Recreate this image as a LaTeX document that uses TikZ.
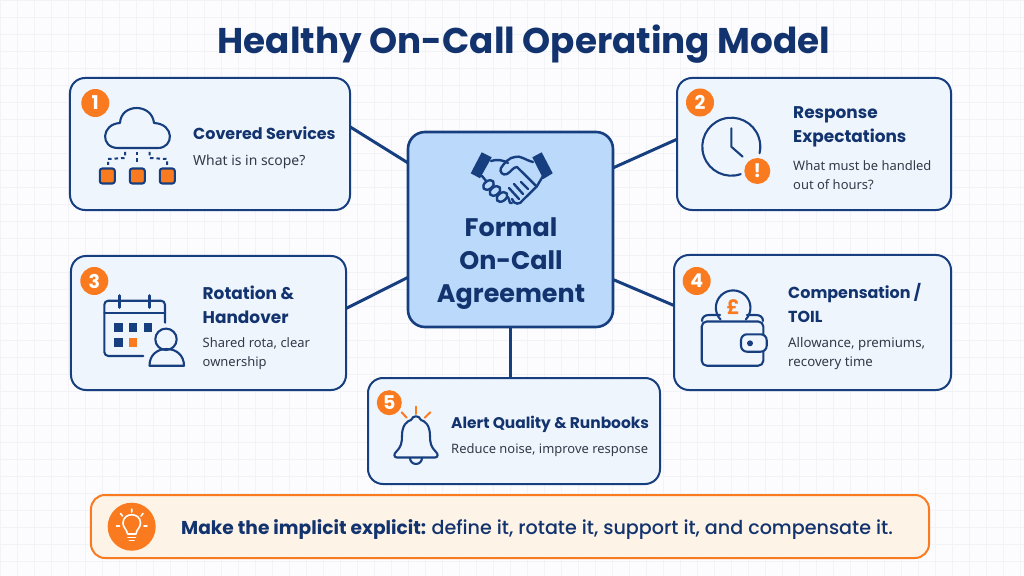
\documentclass[tikz,border=0pt]{standalone}
\usepackage{fontspec}
\setmainfont{Noto Sans}
\newfontfamily\headfont{Poppins}
\newfontfamily\midfont{Poppins Medium}
\usepackage{tikz}

\definecolor{navy}{HTML}{12336E}
\definecolor{linecol}{HTML}{173F7F}
\definecolor{cardcol}{HTML}{EFF5FD}
\definecolor{corecol}{HTML}{BBD9FB}
\definecolor{orangecol}{HTML}{F97A1F}
\definecolor{bannercol}{HTML}{FDF3E6}
\definecolor{bodycol}{HTML}{333A47}
\definecolor{gridcol}{HTML}{F1F3F7}
\definecolor{pagecol}{HTML}{FCFCFE}

\begin{document}
\begin{tikzpicture}[x=1bp,y=-1bp,line join=round,line cap=round,
	card/.style={draw=linecol,fill=cardcol,line width=2bp,rounded corners=15bp,inner sep=0pt,outer sep=0pt},
	badge/.style={circle,fill=orangecol,text=white,inner sep=0pt,outer sep=0pt,font=\headfont\fontsize{19}{19}\selectfont\bfseries},
	head/.style={anchor=west,align=left,inner sep=0pt,text=navy,font=\headfont\fontsize{16}{24}\selectfont\bfseries},
	headbig/.style={head,font=\headfont\fontsize{17}{24}\selectfont\bfseries},
	sub/.style={anchor=west,align=left,inner sep=0pt,text=bodycol,font=\fontsize{13}{18.5}\selectfont},
	link/.style={draw=linecol,line width=3bp,line cap=butt},
	icon/.style={draw=linecol,line width=2.1bp},
	wire/.style={icon,dash pattern=on 3.5bp off 3bp,line width=2bp,line cap=butt},
	shake/.style={icon,line width=2.4bp},
	spark/.style={draw=orangecol,line width=2bp},
	beam/.style={draw=white,line width=1.6bp},
	]
	\useasboundingbox (0,0) rectangle (1024,576);
	\fill [pagecol] (0,0) rectangle (1024,576);
	\draw [gridcol,line width=0.7bp,step=17bp] (0,0) grid (1024,576);

	\node (title) at (524,44) [inner sep=0pt,text=navy,font=\headfont\fontsize{35.9}{36}\selectfont\bfseries] {Healthy On-Call Operating Model};

	%% cards
	\node (c1) at (210,144) [card,minimum width=280bp,minimum height=132bp] {};
	\node (c2) at (814,144) [card,minimum width=274bp,minimum height=132bp] {};
	\node (c3) at (208.5,323) [card,minimum width=275bp,minimum height=134bp] {};
	\node (c4) at (812.5,322.5) [card,minimum width=277bp,minimum height=135bp] {};
	\node (c5) at (514,431) [card,minimum width=292bp,minimum height=106bp] {};
	\node (core) at (510.5,229.5) [card,fill=corecol,line width=2.6bp,rounded corners=17bp,minimum width=205bp,minimum height=195bp] {};

	\draw [link] (core.147.8) -- (c1.7.7);
	\draw [link] (core.31.8) -- (c2.178.3);
	\draw [link] (core.205.3) -- (c3.6.2);
	\draw [link] (core.334.7) -- (c4.173.6);
	\draw [link] (core.south) -- (core.south |- c5.north);

	\node (b1) at (95.3,103) [badge,minimum size=28bp] {1};
	\node (b2) at (700,102.5) [badge,minimum size=28bp] {2};
	\node (b3) at (94.3,281) [badge,minimum size=28bp] {3};
	\node (b4) at (696.7,281) [badge,minimum size=28bp] {4};
	\node (b5) at (389.3,402.7) [badge,minimum size=25bp] {5};

	\node (h1) at (193,133.5) [head] {Covered Services};
	\node (s1) at (193,162) [sub,font=\fontsize{14}{18.5}\selectfont] {What is in scope?};
	\node (h2) at (793,126.5) [headbig] {Response\\Expectations};
	\node (s2) at (793,175) [sub] {What must be handled\\out of hours?};
	\node (h3) at (202.5,305) [headbig] {Rotation \&\\Handover};
	\node (s3) at (202.5,353.5) [sub] {Shared rota, clear\\ownership};
	\node (h4) at (788,303) [head] {Compensation /\\TOIL};
	\node (s4) at (788,353.5) [sub,font=\fontsize{13.3}{18.5}\selectfont] {Allowance, premiums,\\recovery time};
	\node (h5) at (451,424.3) [head,font=\headfont\fontsize{15.5}{24}\selectfont\bfseries] {Alert Quality \& Runbooks};
	\node (s5) at (451,450) [sub] {Reduce noise, improve response};

	%% cloud
	\draw [icon] (118,148) -- (158,148) .. controls (174,148) and (175,124) .. (154,123) .. controls (152,103) and (121,103) .. (120,123) .. controls (101,124) and (100,148) .. (118,148) -- cycle;
	\draw [wire] (137.3,152) -- (137.3,165);
	\draw [wire] (125,152) -- (125,158) -- (108,159) -- (108,165);
	\draw [wire] (149.5,152) -- (149.5,158) -- (167,159) -- (167,165);
	\foreach \x in {107.3,137.3,167.3}
		\draw [icon,fill=orangecol,rounded corners=2.5bp] (\x-7.5,168.5) rectangle (\x+7.5,183.5);

	%% clock
	\draw [icon] (731.3,146.7) ++(71:29) arc (71:373:29);
	\draw [icon] (731.3,128.3) -- (731.3,146.7) -- (742.7,156.7);
	\node (warn) at (757.3,171) [badge,minimum size=26bp] {!};

	%% calendar
	\draw [icon,rounded corners=4bp] (143.3,356) -- (104.3,356) -- (104.3,300.7) -- (165,300.7) -- (165,322.7);
	\draw [icon] (104.3,313.3) -- (165,313.3);
	\foreach \x in {119.3,149.3}
		\draw [icon,line width=2.8bp] (\x,295.5) -- (\x,307.5);
	\foreach \x/\y/\z in {118.3/327.3/linecol,133/327.3/linecol,148/327.3/linecol,118.3/342.7/linecol,133/342.7/orangecol}
		\fill [\z] (\x-4.4,\y-4.4) rectangle (\x+4.4,\y+4.4);
	\draw [icon] (166,339.3) circle [radius=10.7];
	\draw [icon] (149.5,365.7) .. controls (149.5,355) and (157,349) .. (166.7,349) .. controls (176,349) and (184,355) .. (184,365.7) -- cycle;

	%% wallet
	\draw [icon,rounded corners=5bp] (701.7,321.5) -- (763.3,321.5) -- (763.3,365.7) -- (701.7,365.7) -- cycle;
	\draw [icon] (702,321) .. controls (702,317) and (705,315) .. (709,315) -- (720,315);
	\draw [icon] (747,315) -- (756,315) .. controls (760,315) and (763,317) .. (763,321);
	\draw [icon] (720.5,319.5) arc (137:403:17.3);
	\node (pound) at (733.3,307.5) [inner sep=0pt,text=orangecol,font=\headfont\fontsize{20}{20}\selectfont\bfseries] {£};
	\draw [icon,fill=cardcol,rounded corners=6bp] (766.7,334.3) -- (741,334.3) -- (741,351.7) -- (766.7,351.7) -- cycle;
	\fill [linecol] (750,343.3) circle [radius=3];

	%% bell
	\draw [spark] (416,406.7) -- (416,414);
	\draw [spark] (401.7,412.3) -- (406.7,417.7);
	\draw [spark] (430.3,412.3) -- (424.7,417.7);
	\draw [icon] (397,457.5) -- (435,457.5) .. controls (438,457.5) and (438.5,454) .. (436,452) .. controls (431,447) and (430,443) .. (430,436) .. controls (430,425) and (425,421) .. (421,420) .. controls (419,415) and (413,415) .. (411,420) .. controls (407,421) and (402,425) .. (402,436) .. controls (402,443) and (401,447) .. (396,452) .. controls (393.5,454) and (394,457.5) .. (397,457.5) -- cycle;
	\draw [icon] (410,458) arc (180:0:6);

	%% handshake
	\fill [linecol] (481.7,152.3) -- (491.7,157.3) -- (480,178.3) -- (470.7,173.3) -- cycle;
	\fill [linecol] (541.7,152.3) -- (532.3,157.3) -- (543.3,179) -- (552.7,173.3) -- cycle;
	\draw [shake] (491,161) .. controls (497,159) and (503,160) .. (508,163);
	\draw [shake] (533,162) .. controls (525,160) and (520,155) .. (515,157) .. controls (510,157) and (504,163) .. (501,168) .. controls (499,172) and (503,176) .. (507,174) .. controls (511,172) and (513,167) .. (517,167) -- (536.7,186.5);
	\draw [shake] (543,176) -- (536.7,186.5) -- (523,200);
	\draw [shake] (482,176) -- (487,182);
	\foreach \x/\y in {488.5/185,495/191,502/197}
		\draw [shake,fill=corecol,rotate around={38:(\x,\y)}] (\x,\y) ellipse [x radius=6,y radius=4];
	\draw [shake] (508,197) .. controls (510,201) and (509,204) .. (512,203);
	\draw [shake] (512,199) .. controls (514,205) and (520,205) .. (523,200);
	\draw [shake] (509,188) -- (519,199);
	\draw [shake] (523,194) -- (514,184);
	\draw [shake] (528,189) -- (521,182);

	\node (t1) at (511,263.5) [inner sep=0pt,align=center,text=navy,font=\headfont\fontsize{25.5}{33.3}\selectfont\bfseries] {Formal\\On-Call\\Agreement};

	%% banner
	\node (tip) at (510,526.5) [card,draw=orangecol,fill=bannercol,rounded corners=14bp,minimum width=838bp,minimum height=63bp] {};
	\node (lamp) at (131.7,526.7) [circle,fill=orangecol,minimum size=48bp,inner sep=0pt] {};
	\draw [beam] (127.5,534) .. controls (127,529) and (123,528) .. (123,523) .. controls (123,512) and (140.5,512) .. (140.5,523) .. controls (140.5,528) and (136.5,529) .. (136,534) -- cycle;
	\draw [beam] (128,537.5) -- (135.5,537.5) (129.5,540.5) -- (134,540.5);
	\draw [beam] (131.7,509) -- (131.7,512) (120.5,513.5) -- (122.5,516) (143,513.5) -- (141,516) (116.5,526) -- (119.5,526) (144,526) -- (147,526);
	\node (msg) at (181,530) [anchor=west,inner sep=0pt,text=navy,font=\headfont\fontsize{18.7}{19}\selectfont] {\bfseries Make the implicit explicit: \mdseries\midfont\fontsize{19.2}{19}\selectfont define it, rotate it, support it, and compensate it.};
	%
\end{tikzpicture}
\end{document}
